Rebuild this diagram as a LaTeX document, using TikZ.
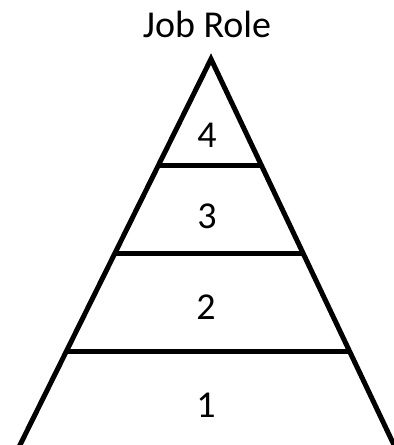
\documentclass[tikz,border=0pt]{standalone}
\usepackage{fontspec}
\setmainfont{Carlito}
\usetikzlibrary{calc}
\begin{document}
\begin{tikzpicture}[x=1pt,y=-1pt,
  edge/.style={line width=5pt,black,line join=miter},
  lbl/.style={anchor=base,inner sep=0pt,font=\fontsize{38}{40}\selectfont}]
\useasboundingbox (0,0) rectangle (394,445);
\clip (0,0) rectangle (394,445);
\coordinate (A) at (211,59);
\coordinate (L) at (20,445);
\coordinate (R) at (394,445);
\coordinate (L2) at ($(A)!1.03!(L)$);
\coordinate (R2) at ($(A)!1.03!(R)$);
\draw[edge] (L2) -- (A) -- (R2);
\draw[edge] ($(A)!0.277!(L)$) -- ($(A)!0.277!(R)$);
\draw[edge] ($(A)!0.5026!(L)$) -- ($(A)!0.5026!(R)$);
\draw[edge] ($(A)!0.759!(L)$) -- ($(A)!0.759!(R)$);
\node[lbl] (title) at (207,37) {Job Role};
\node[lbl] (n4) at (207,147) {4};
\node[lbl] (n3) at (207,228) {3};
\node[lbl] (n2) at (206,319) {2};
\node[lbl] (n1) at (206,417) {1};
\end{tikzpicture}
\end{document}
